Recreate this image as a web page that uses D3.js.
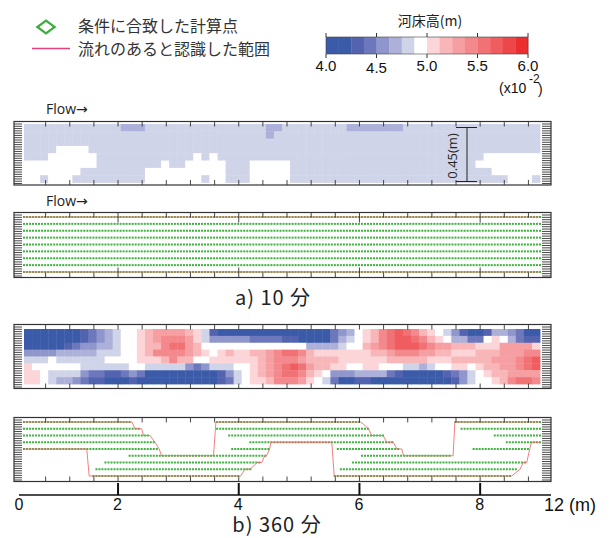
<!DOCTYPE html>
<html>
<head>
<meta charset="utf-8">
<script src="https://cdn.jsdelivr.net/npm/d3@7"></script>
<style>
  body { margin: 0; background: #fff; }
  svg { display: block; }
</style>
</head>
<body>
<div id="app"></div>
<script>
// bed elevation classes (x10^-2 m): 16 bins of 0.125 between 4.0 and 6.0
const legendTicks = [4.0, 4.5, 5.0, 5.5, 6.0]
const binColors = ['#3b5ba9', '#3b5ba9', '#5363b0', '#6c78bb', '#8e96cb', '#adb1da', '#d0d4e8', '#ffffff',
  '#fbd5d7', '#f8b6b9', '#f59fa2', '#f3898c', '#f17275', '#ef5d60', '#ed4749', '#eb2f30']

const axisTicks = [2, 4, 6, 8]

// a) 10 min, 8 rows x 64 cells, run lengths [bin, count]
const bed10 = [
  [[6, 12], [5, 3], [6, 15], [5, 2], [6, 8], [5, 7], [6, 17]],
  [[6, 30], [5, 1], [6, 33]],
  [[6, 64]],
  [[6, 4], [7, 4], [6, 56]],
  [[6, 3], [7, 6], [6, 12], [7, 1], [6, 1], [7, 1], [6, 33], [7, 7]],
  [[7, 9], [6, 8], [7, 1], [6, 2], [7, 5], [6, 3], [7, 5], [6, 23], [7, 8]],
  [[7, 7], [6, 8], [7, 10], [6, 3], [7, 5], [6, 25], [7, 6]],
  [[7, 2], [6, 1], [7, 3], [6, 9], [7, 7], [6, 1], [7, 2], [6, 3], [7, 5], [6, 27], [7, 3], [6, 1]]
]

// b) 360 min, 8 rows x 64 cells, one hex digit (bin) per cell
const bed360 = [
  ['0000000', '2345677', '89aaaa98', '62', '00000000000000', '345789bcdc', 'b987642', '002554310'].join(''),
  ['000000', '12345677', '89abbba864', '44443333221000', '356789bcdd', 'cb9875533', '7875322'].join(''),
  ['11111', '234455677', '899bcca9', '7777777777777', '5555677', '9abcdddcbaa', '999888aaaa8'].join(''),
  ['4444', '55555', '66677', '89bbbba9', '87898899ab', 'ccb98888888', '99abbbaa99', '888999aaabb'].join(''),
  ['6667666666', '7777', '8889b9977', '8888889abbb', 'a9999888888', '99999888', '99999aaabcd'].join(''),
  ['8777777', '66666677', '66666434', '6667789abcdc', 'a998877887776', '656778878', '99aabcd'].join(''),
  ['8876666', '43322343', '000000000', '246789abccb987', '444555532', '0000023467', '899aaaa'].join(''),
  ['88765543', '2210021', '000000000', '2367889bbba876', '3002211', '0000000', '12467789bccb'].join('')
]

// calculation points that meet the condition: [from, to] in m, for each of the 9 rows
const pts10 = [
  [[0.45, 9.0]], [[0.45, 9.0]], [[0.45, 9.0]], [[0.45, 9.0]], [[0.45, 9.0]],
  [[0.45, 9.0]], [[0.45, 9.0]], [[0.45, 9.0]], [[0.45, 9.0]]
]
const pts360 = [
  [[0.45, 2.24], [3.63, 6.03], [7.59, 9.0]],
  [[0.45, 2.37], [3.65, 6.16], [7.70, 9.0]],
  [[0.45, 2.53], [3.83, 6.40], [8.24, 9.0]],
  [[0.45, 2.62], [4.17, 6.57], [8.44, 9.0]],
  [[0.45, 2.69], [3.86, 4.52], [5.63, 6.68], [7.89, 8.83]],
  [[2.18, 4.47], [6.03, 7.54]],
  [[1.76, 4.39], [5.88, 8.78]],
  [[1.61, 4.20], [5.67, 8.64]],
  [[1.56, 4.04], [5.59, 8.53]]
]

// range recognised as flow: boundary lines as [x (m), row]
const flow10 = [
  [[0.45, 0], [9.0, 0]],
  [[0.45, 8], [9.0, 8]]
]
const flow360 = [
  [[0.45, 0], [2.24, 0], [2.29, 1], [2.40, 1], [2.43, 2], [2.54, 2], [2.62, 3], [2.69, 4], [2.73, 5], [3.59, 5],
    [3.63, 0], [6.03, 0], [6.16, 1], [6.21, 2], [6.40, 2], [6.46, 3], [6.57, 3], [6.63, 4], [6.71, 4], [6.74, 5],
    [7.56, 5], [7.59, 0], [9.0, 0]],
  [[0.45, 4], [1.49, 4], [1.53, 8], [4.04, 8], [4.11, 7], [4.20, 7], [4.31, 6], [4.39, 6], [4.44, 5], [4.47, 5],
    [4.52, 4], [4.54, 3], [5.55, 3], [5.59, 8], [8.53, 8], [8.67, 7], [8.72, 6], [8.78, 6], [8.83, 4], [8.86, 3],
    [9.0, 3]]
]

const gridStep = 0.05 // computational grid spacing along the flume (m)

//

const W = 609, H = 538
const sans = 'Liberation Sans, Arial, sans-serif'
const jp = '"Noto Sans CJK JP", sans-serif'

const svg = d3.select('#app').append('svg')
  .attr('width', W)
  .attr('height', H)

const xM = d3.scaleLinear().domain([0.45, 9.0]).range([24, 540])
const xCell = d3.scaleLinear().domain([0, 64]).range([xM(0.45), xM(9.0)])
const color = d3.scaleQuantize().domain([4, 6]).range(binColors)
const binValue = b => 4 + (b + 0.5) * 0.125

const frameL = 14, frameR = 551

function drawBed(rows, top, bottom) {
  const yCell = d3.scaleLinear().domain([0, rows.length]).range([top, bottom])
  const cells = []
  rows.forEach((row, r) => {
    const bins = typeof row === 'string'
      ? row.split('').map(ch => parseInt(ch, 16))
      : row.flatMap(([b, n]) => d3.range(n).map(() => b))
    bins.slice(0, 64).forEach((b, c) => cells.push({ r, c, v: binValue(b) }))
  })
  svg.append('g').selectAll('rect')
    .data(cells)
    .join('rect')
    .attr('x', d => xCell(d.c))
    .attr('y', d => yCell(d.r))
    .attr('width', xCell(1) - xCell(0) + 0.4)
    .attr('height', yCell(1) - yCell(0) + 0.4)
    .attr('fill', d => color(d.v))
}

function drawPts(rows, flows, top, bottom) {
  const yRow = d3.scaleLinear().domain([0, 8]).range([top + 4.5, bottom - 5.5])
  const nodes = d3.range(0.45, 9.0 + 1e-6, gridStep)
  const pts = []
  rows.forEach((segs, r) => {
    nodes.forEach(x => {
      if (segs.some(s => x >= s[0] - 1e-6 && x <= s[1] + 1e-6)) pts.push({ x, r })
    })
  })
  svg.append('g').selectAll('rect')
    .data(pts)
    .join('rect')
    .attr('x', d => xM(d.x) - 1)
    .attr('y', d => yRow(d.r) - 1)
    .attr('width', 2)
    .attr('height', 2)
    .attr('fill', '#3fb13f')

  const line = d3.line().x(d => xM(d[0])).y(d => yRow(d[1]))
  svg.append('g').selectAll('path')
    .data(flows)
    .join('path')
    .attr('d', line)
    .attr('fill', 'none')
    .attr('stroke', '#f06a6a')
    .attr('stroke-opacity', 0.85)
    .attr('stroke-width', 1)
}

function drawFrame(top, bottom, longTicks) {
  const g = svg.append('g').attr('color', '#333')
  const tv = d3.range(0.8, 8.85, 0.4)
  const tickLen = d => (longTicks && [2, 4, 6, 8].some(m => Math.abs(m - d) < 1e-6)) ? 10 : 5

  g.append('g')
    .attr('transform', `translate(0,${top})`)
    .call(d3.axisBottom(xM).tickValues(tv).tickSize(5).tickFormat(''))
    .call(a => a.select('.domain').remove())
    .call(a => a.selectAll('.tick line').attr('y2', tickLen))
  g.append('g')
    .attr('transform', `translate(0,${bottom})`)
    .call(d3.axisTop(xM).tickValues(tv).tickSize(5).tickFormat(''))
    .call(a => a.select('.domain').remove())
    .call(a => a.selectAll('.tick line').attr('y2', d => -tickLen(d)))

  // fine ruler ticks on both ends
  const yC = d3.scaleLinear().domain([0, 1]).range([bottom - 2, top + 2])
  const cv = d3.range(0, 1.0001, 1 / 26)
  g.append('g')
    .attr('transform', `translate(${frameL},0)`)
    .call(d3.axisRight(yC).tickValues(cv).tickSize(8).tickFormat(''))
    .call(a => a.select('.domain').remove())
  g.append('g')
    .attr('transform', `translate(${frameR},0)`)
    .call(d3.axisLeft(yC).tickValues(cv).tickSize(9).tickFormat(''))
    .call(a => a.select('.domain').remove())
  g.selectAll('.tick line').attr('stroke-width', 0.9)

  g.append('rect')
    .attr('x', frameL).attr('y', top)
    .attr('width', frameR - frameL).attr('height', bottom - top)
    .attr('fill', 'none')
    .attr('stroke', '#333')
    .attr('stroke-width', 1.2)
}

// panels
drawBed(bed10, 124, 182.5)
drawFrame(121.5, 185, false)

drawPts(pts10, flow10, 212.5, 277.5)
drawFrame(212.5, 277.5, true)

drawBed(bed360, 329, 384)
drawFrame(324.5, 388.5, false)

drawPts(pts360, flow360, 417.5, 481.5)
drawFrame(417.5, 481.5, false)

// flow labels
;[114, 206].forEach(y => {
  const t = svg.append('text').attr('x', 46).attr('y', y)
    .attr('font-family', '"Open Sans", sans-serif').attr('font-size', 14).attr('fill', '#222')
  t.append('tspan').text('Flow')
  t.append('tspan').attr('font-family', '"DejaVu Sans", sans-serif').attr('font-size', 14).text('→')
})

// width dimension
const dim = svg.append('g').attr('stroke', '#222').attr('stroke-width', 1)
dim.append('line').attr('x1', 467).attr('x2', 467).attr('y1', 127.5).attr('y2', 181.5)
dim.append('line').attr('x1', 456).attr('x2', 477).attr('y1', 127.5).attr('y2', 127.5)
dim.append('line').attr('x1', 456).attr('x2', 477).attr('y1', 181.5).attr('y2', 181.5)
svg.append('text')
  .attr('transform', 'translate(457,156) rotate(-90)')
  .attr('text-anchor', 'middle')
  .attr('font-family', '"Open Sans", sans-serif').attr('font-size', 13).attr('fill', '#222')
  .text('0.45(m)')

// panel captions
svg.append('text').attr('x', 273).attr('y', 305).attr('text-anchor', 'middle')
  .attr('font-family', jp).attr('font-size', 20).attr('letter-spacing', 1).attr('fill', '#222')
  .text('a) 10 分')
svg.append('text').attr('x', 277).attr('y', 532).attr('text-anchor', 'middle')
  .attr('font-family', jp).attr('font-size', 20).attr('letter-spacing', 1).attr('fill', '#222')
  .text('b) 360 分')

// bottom distance axis
const ax = svg.append('g').attr('transform', 'translate(0,495)').attr('color', '#111')
ax.call(d3.axisTop(xM).tickValues(axisTicks).tickSize(12).tickFormat(''))
  .call(a => a.select('.domain').remove())
ax.selectAll('.tick line').attr('stroke-width', 2)
ax.append('line').attr('x1', 19).attr('x2', frameR).attr('stroke', '#111').attr('stroke-width', 1.5)
ax.selectAll('.lbl')
  .data(axisTicks)
  .join('text')
  .attr('x', d => xM(d)).attr('y', 15)
  .attr('text-anchor', 'middle')
  .attr('font-family', sans).attr('font-size', 16).attr('fill', '#111')
  .text(d => d)
ax.append('text').attr('x', 19).attr('y', 15).attr('text-anchor', 'middle')
  .attr('font-family', sans).attr('font-size', 16).attr('fill', '#111').text('0')
ax.append('text').attr('x', 544).attr('y', 16).attr('text-anchor', 'start')
  .attr('font-family', sans).attr('font-size', 18).attr('fill', '#111').text('12 (m)')

// legend
const lg = svg.append('g')
lg.append('path')
  .attr('d', d3.symbol(d3.symbolSquare, 81))
  .attr('transform', 'translate(46,27) scale(1.35,1) rotate(45)')
  .attr('fill', 'none').attr('stroke', '#3cad3c').attr('stroke-width', 2)
lg.append('text').attr('x', 78).attr('y', 32)
  .attr('font-family', jp).attr('font-size', 16).attr('fill', '#333')
  .text('条件に合致した計算点')
lg.append('line').attr('x1', 32).attr('x2', 70).attr('y1', 48.5).attr('y2', 48.5)
  .attr('stroke', '#e3437a').attr('stroke-width', 1.5)
lg.append('text').attr('x', 78).attr('y', 55)
  .attr('font-family', jp).attr('font-size', 16).attr('fill', '#333')
  .text('流れのあると認識した範囲')

// color bar
const xLeg = d3.scaleLinear().domain([4, 6]).range([326, 528])
const cb = svg.append('g')
cb.selectAll('rect')
  .data(binColors)
  .join('rect')
  .attr('x', (d, i) => xLeg(4 + i * 0.125))
  .attr('y', 37)
  .attr('width', xLeg(4.125) - xLeg(4) + 0.3)
  .attr('height', 17)
  .attr('fill', d => d)
cb.append('rect').attr('x', xLeg(4)).attr('y', 37).attr('width', xLeg(6) - xLeg(4)).attr('height', 17)
  .attr('fill', 'none').attr('stroke', '#444').attr('stroke-width', 0.6)
cb.selectAll('.tt')
  .data(legendTicks)
  .join('line')
  .attr('x1', d => xLeg(d)).attr('x2', d => xLeg(d))
  .attr('y1', 33).attr('y2', 37)
  .attr('stroke', '#333').attr('stroke-width', 1)
cb.selectAll('.tb')
  .data(legendTicks)
  .join('line')
  .attr('x1', d => xLeg(d)).attr('x2', d => xLeg(d))
  .attr('y1', 54).attr('y2', 58)
  .attr('stroke', '#333').attr('stroke-width', 1)
cb.selectAll('.l')
  .data(legendTicks)
  .join('text')
  .attr('x', d => xLeg(d))
  .attr('y', d => (d === 4.5 ? 73 : 71))
  .attr('text-anchor', 'middle')
  .attr('font-family', sans).attr('font-size', 15).attr('fill', '#111')
  .text(d => d.toFixed(1))
cb.append('text').attr('x', 430).attr('y', 26).attr('text-anchor', 'middle')
  .attr('font-family', jp).attr('font-size', 14).attr('fill', '#222')
  .text('河床高(m)')
cb.append('text').attr('x', 499).attr('y', 93)
  .attr('font-family', sans).attr('font-size', 14).attr('fill', '#111').text('(x10')
cb.append('text').attr('x', 529).attr('y', 83)
  .attr('font-family', sans).attr('font-size', 12).attr('fill', '#111').text('-2')
cb.append('text').attr('x', 538).attr('y', 94)
  .attr('font-family', sans).attr('font-size', 14).attr('fill', '#111').text(')')
</script>
</body>
</html>
